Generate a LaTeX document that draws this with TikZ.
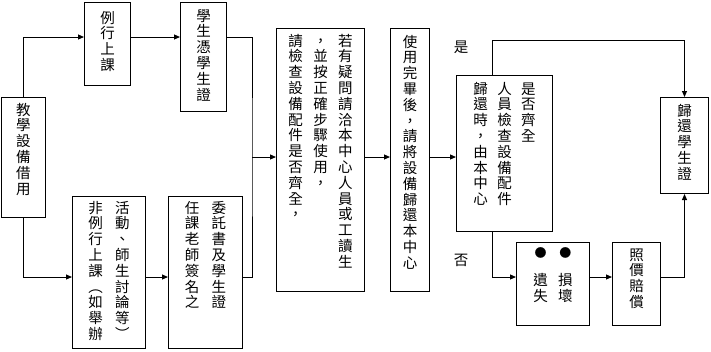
\documentclass[tikz,border=0pt]{standalone}
\usepackage{fontspec}
\newfontfamily\cjk{Noto Sans CJK TC}
\usetikzlibrary{arrows.meta}
\newlength\chw
\setlength\chw{15.8pt}
\makeatletter
\def\tcol@x#1{\ifx\relax#1\else\hbox to\chw{\hss\vrule height.86\chw depth.14\chw width0pt #1\hss}\expandafter\tcol@x\fi}
\newcommand\tcol[1]{\vtop{\offinterlineskip\tcol@x#1\relax}}
\makeatother
\newcommand\tbox[4]{\parbox[c][#2][t]{#1}{\vspace*{#3}\centering\leavevmode#4\par}}
\tikzset{
  box/.style={draw, inner sep=0pt, anchor=north west, font=\cjk\fontsize{14.5}{15.8}\selectfont},
  lbl/.style={inner sep=0pt, font=\cjk\fontsize{14.5}{15.8}\selectfont}
}

\begin{document}
\begin{tikzpicture}[x=1pt, y=-1pt, line width=1pt, >={Triangle[length=6pt,width=5pt]}]
\useasboundingbox (0,0) rectangle (711,351);
\coordinate (rowA) at (0,37);
\coordinate (rowB) at (0,277);
\coordinate (join) at (252,157);
\coordinate (yescorner) at (492,40);
\coordinate (nocorner) at (492,277);
% borrowing branch
\node[box] (borrow) at (1,97) {\tbox{44pt}{120pt}{4pt}{\tcol{教學設備借用}}};
\node[box] (routine) at (84,2) {\tbox{46pt}{83pt}{7pt}{\tcol{例行上課}}};
\node[box] (card) at (180,2) {\tbox{46pt}{109pt}{5pt}{\tcol{學生憑學生證}}};
\node[box] (nonroutine) at (72,196) {\tbox{73pt}{152pt}{3pt}{\tcol{非例行上課︵如舉辦}\hspace{11pt}\tcol{活動、師生討論等︶}}};
\node[box] (letter) at (168,196) {\tbox{74pt}{152pt}{3pt}{\tcol{任課老師簽名之}\hspace{11pt}\tcol{委託書及學生證}}};
% use and return
\node[box] (check) at (276,28) {\tbox{88pt}{263pt}{4pt}{\tcol{請檢查設備配件是否齊全，}\hspace{9pt}\tcol{，並按正確步驟使用，}\hspace{9pt}\tcol{若有疑問請洽本中心人員或工讀生}}};
\node[box] (after) at (390,28) {\tbox{39pt}{263pt}{5pt}{\tcol{使用完畢後，請將設備歸還本中心}}};
\node[box] (inspect) at (456,75) {\tbox{96pt}{156pt}{5pt}{\tcol{歸還時，由本中心}\hspace{8pt}\tcol{人員檢查設備配件}\hspace{8pt}\tcol{是否齊全}}};
\node[box] (returncard) at (660,97) {\tbox{48pt}{96pt}{5pt}{\tcol{歸還學生證}}};
\node[box] (lost) at (516,242) {\tbox{73pt}{83pt}{1pt}{\vtop{\offinterlineskip
  \hbox{\fontsize{12}{12}\selectfont\tcol{●}\hspace{9pt}\tcol{●}}\kern13pt
  \hbox{\tcol{遺失}\hspace{9pt}\tcol{損壞}}}}};
\node[box] (pay) at (612,242) {\tbox{48pt}{83pt}{4pt}{\tcol{照價賠償}}};
\node[lbl] (yes) at (461,47) {是};
\node[lbl] (no) at (461,260) {否};
% connectors
\draw[->] (borrow.north) |- (routine.west |- rowA);
\draw[->] (routine.east |- rowA) -- (card.west |- rowA);
\draw[->] (borrow.south) |- (nonroutine.west |- rowB);
\draw[->] (nonroutine.east |- rowB) -- (letter.west |- rowB);
\draw (card.east |- rowA) -| (join) |- (letter.east |- rowB);
\draw[->] (join) -- (check.west |- join);
\draw[->] (check.east |- join) -- (after.west |- join);
\draw[->] (after.east |- join) -- (inspect.west |- join);
\draw[->] (inspect.north -| yescorner) -- (yescorner) -| (returncard.north);
\draw[->] (inspect.south -| nocorner) -- (nocorner) -- (lost.west |- nocorner);
\draw[->] (lost.east |- nocorner) -- (pay.west |- nocorner);
\draw[->] (pay.east |- nocorner) -| (returncard.south);
\end{tikzpicture}
\end{document}
